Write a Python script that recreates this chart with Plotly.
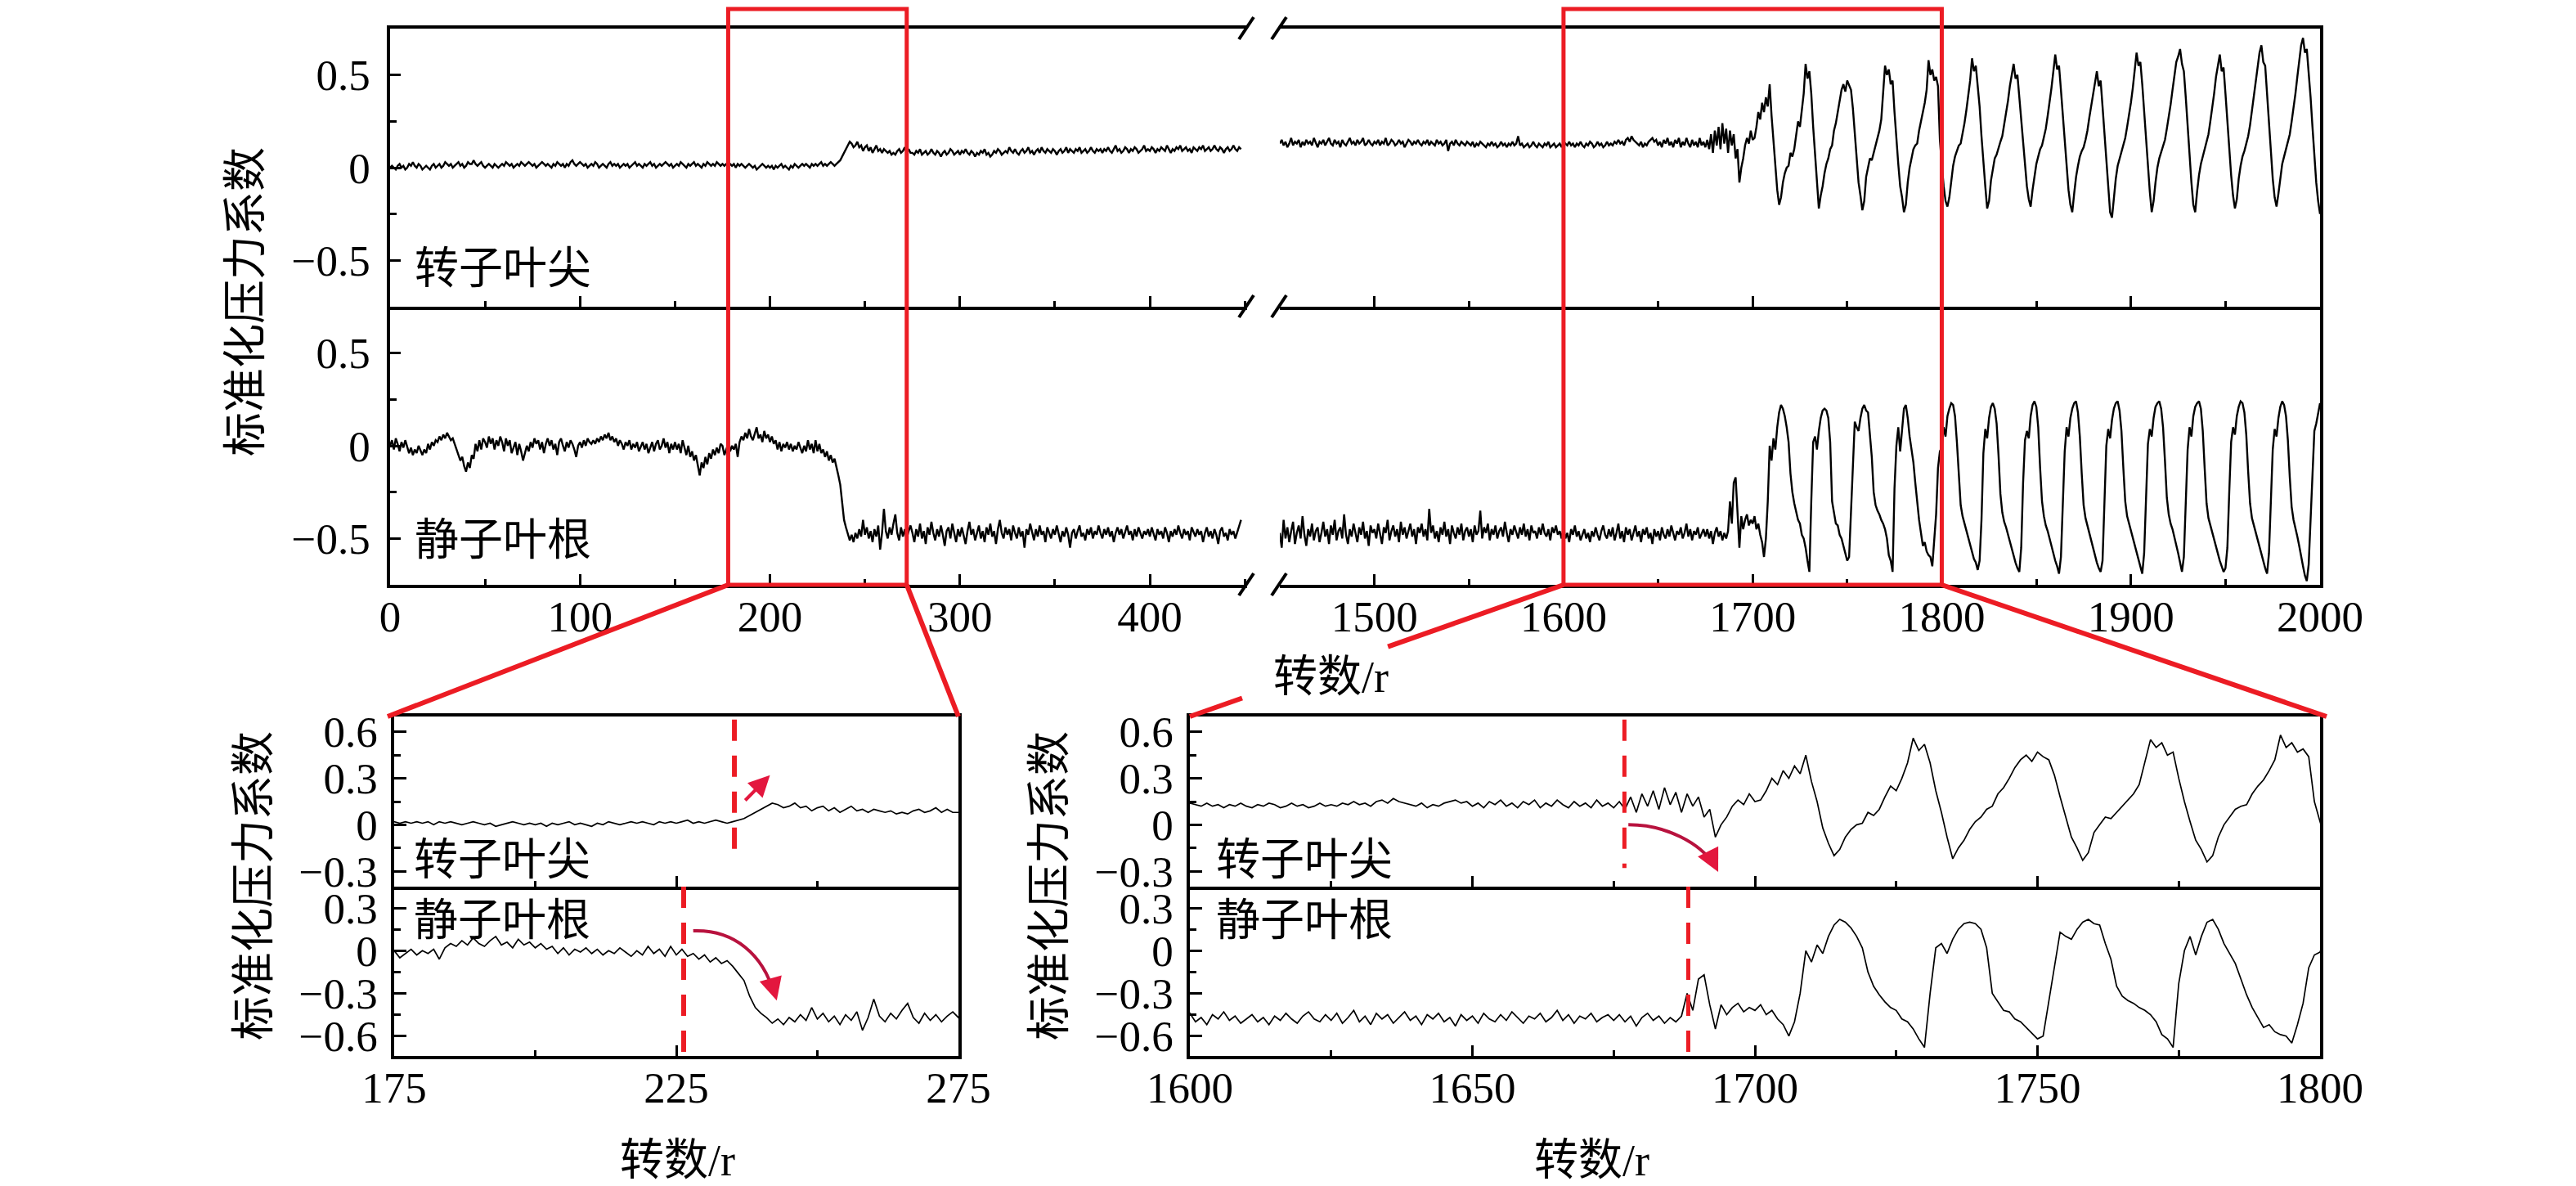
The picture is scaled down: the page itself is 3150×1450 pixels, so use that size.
import plotly.graph_objects as go

# ---------------- data ----------------
# revolutions: early segment starts at 0, late segment starts at 1450 (1 value per revolution)
rev_start_early = 0
rev_start_late = 1450

rotor_tip_early = [
    0.00, 0.01, 0.00, -0.01, 0.01, 0.02, 0.00, 0.01, -0.01, 0.00, 0.02, 0.01, 0.03, 0.01, 0.00, 0.02, 0.01, -0.01, 0.00, 0.01, 0.00, -0.01, 0.01, 0.02, 0.00,
    0.01, 0.02, 0.00, 0.01, 0.03, 0.02, 0.01, 0.02, 0.00, 0.01, 0.02, 0.03, 0.01, 0.02, 0.00, 0.01, 0.03, 0.02, 0.02, 0.04, 0.02, 0.01, 0.02, 0.03, 0.01,
    0.00, 0.01, 0.02, 0.01, 0.00, 0.02, 0.01, 0.00, 0.01, 0.02, 0.01, 0.03, 0.02, 0.01, 0.02, 0.00, 0.01, 0.02, 0.01, 0.03, 0.02, 0.01, 0.02, 0.03, 0.02,
    0.01, 0.02, 0.00, 0.01, 0.02, 0.03, 0.02, 0.01, 0.02, 0.01, 0.00, 0.02, 0.01, 0.03, 0.02, 0.01, 0.02, 0.00, 0.02, 0.01, 0.03, 0.04, 0.02, 0.01, 0.02,
    0.03, 0.02, 0.01, 0.02, 0.00, 0.01, 0.02, 0.01, 0.03, 0.02, 0.00, 0.01, 0.02, 0.01, 0.00, 0.02, 0.03, 0.01, 0.02, 0.01, 0.02, 0.00, 0.01, 0.02, 0.01,
    0.02, 0.00, 0.01, 0.02, 0.03, 0.01, 0.02, 0.01, 0.00, 0.02, 0.01, 0.02, 0.03, 0.01, 0.02, 0.00, 0.01, 0.02, 0.01, 0.02, 0.03, 0.02, 0.01, 0.02, 0.00,
    0.01, 0.02, 0.01, 0.03, 0.02, 0.01, 0.00, 0.02, 0.01, 0.02, 0.03, 0.01, 0.02, 0.01, 0.00, 0.02, 0.01, 0.03, 0.02, 0.01, 0.02, 0.01, 0.03, 0.02, 0.01,
    0.02, 0.01, 0.02, 0.01, 0.02, 0.01, 0.02, 0.00, 0.02, 0.01, 0.02, 0.01, 0.00, 0.01, 0.02, 0.01, 0.00, 0.01, -0.01, 0.00, 0.01, 0.02, 0.01, 0.00, 0.01,
    0.00, 0.01, -0.01, 0.01, 0.00, 0.01, 0.02, 0.00, 0.01, 0.00, -0.01, 0.01, 0.00, 0.02, 0.01, 0.00, 0.01, 0.02, 0.01, 0.02, 0.01, 0.00, 0.02, 0.01, 0.02,
    0.01, 0.02, 0.03, 0.01, 0.02, 0.01, 0.02, 0.03, 0.02, 0.01, 0.02, 0.03, 0.04, 0.06, 0.08, 0.10, 0.12, 0.14, 0.13, 0.11, 0.12, 0.14, 0.11, 0.12, 0.09,
    0.11, 0.12, 0.09, 0.11, 0.08, 0.10, 0.12, 0.09, 0.10, 0.08, 0.10, 0.09, 0.08, 0.09, 0.07, 0.08, 0.07, 0.09, 0.10, 0.08, 0.09, 0.11, 0.08, 0.10, 0.08,
    0.08, 0.07, 0.09, 0.08, 0.10, 0.07, 0.08, 0.09, 0.07, 0.08, 0.10, 0.08, 0.07, 0.09, 0.08, 0.06, 0.08, 0.09, 0.07, 0.08, 0.10, 0.09, 0.07, 0.08, 0.09,
    0.07, 0.09, 0.08, 0.10, 0.08, 0.07, 0.09, 0.08, 0.06, 0.08, 0.07, 0.09, 0.08, 0.10, 0.07, 0.08, 0.06, 0.07, 0.09, 0.08, 0.10, 0.09, 0.07, 0.08, 0.09,
    0.08, 0.11, 0.09, 0.08, 0.10, 0.08, 0.07, 0.09, 0.10, 0.08, 0.09, 0.11, 0.08, 0.09, 0.07, 0.09, 0.10, 0.08, 0.11, 0.09, 0.08, 0.10, 0.09, 0.08, 0.10,
    0.09, 0.07, 0.09, 0.10, 0.08, 0.09, 0.11, 0.08, 0.10, 0.09, 0.08, 0.10, 0.09, 0.11, 0.08, 0.09, 0.10, 0.08, 0.09, 0.11, 0.09, 0.08, 0.10, 0.09, 0.10,
    0.08, 0.10, 0.09, 0.11, 0.09, 0.08, 0.10, 0.12, 0.09, 0.10, 0.08, 0.09, 0.11, 0.10, 0.08, 0.10, 0.09, 0.11, 0.10, 0.08, 0.09, 0.10, 0.12, 0.09, 0.10,
    0.09, 0.11, 0.10, 0.08, 0.10, 0.09, 0.11, 0.10, 0.09, 0.12, 0.10, 0.08, 0.10, 0.09, 0.11, 0.10, 0.12, 0.09, 0.10, 0.11, 0.09, 0.10, 0.08, 0.11, 0.10,
    0.09, 0.11, 0.10, 0.12, 0.09, 0.10, 0.11, 0.09, 0.10, 0.12, 0.10, 0.09, 0.11, 0.10, 0.08, 0.10, 0.11, 0.09, 0.10, 0.12, 0.10, 0.09, 0.11, 0.10,
]

rotor_tip_late = [
    0.13, 0.15, 0.12, 0.14, 0.11, 0.13, 0.16, 0.12, 0.14, 0.13, 0.15, 0.11, 0.14, 0.12, 0.15, 0.13, 0.14, 0.12, 0.16, 0.13, 0.11, 0.14, 0.13, 0.15, 0.12,
    0.14, 0.16, 0.13, 0.12, 0.15, 0.13, 0.14, 0.11, 0.15, 0.13, 0.12, 0.14, 0.16, 0.13, 0.14, 0.12, 0.15, 0.13, 0.14, 0.16, 0.12, 0.13, 0.15, 0.13, 0.12,
    0.14, 0.13, 0.15, 0.12, 0.14, 0.13, 0.16, 0.12, 0.13, 0.15, 0.14, 0.12, 0.13, 0.15, 0.13, 0.14, 0.11, 0.13, 0.15, 0.14, 0.12, 0.14, 0.13, 0.15, 0.13,
    0.12, 0.14, 0.13, 0.15, 0.12, 0.14, 0.13, 0.12, 0.15, 0.13, 0.14, 0.12, 0.13, 0.15, 0.09, 0.13, 0.14, 0.12, 0.15, 0.13, 0.12, 0.14, 0.13, 0.12, 0.14,
    0.13, 0.12, 0.14, 0.11, 0.13, 0.12, 0.14, 0.13, 0.12, 0.11, 0.13, 0.12, 0.14, 0.12, 0.13, 0.11, 0.12, 0.14, 0.12, 0.13, 0.11, 0.13, 0.12, 0.14, 0.12,
    0.13, 0.17, 0.12, 0.13, 0.11, 0.12, 0.13, 0.11, 0.12, 0.14, 0.12, 0.11, 0.13, 0.12, 0.11, 0.13, 0.12, 0.14, 0.11, 0.12, 0.13, 0.11, 0.12, 0.13, 0.11,
    0.14, 0.13, 0.12, 0.14, 0.12, 0.13, 0.11, 0.13, 0.12, 0.14, 0.12, 0.11, 0.13, 0.12, 0.14, 0.13, 0.11, 0.12, 0.14, 0.12, 0.13, 0.11, 0.12, 0.14, 0.12,
    0.13, 0.12, 0.14, 0.13, 0.15, 0.13, 0.14, 0.12, 0.15, 0.16, 0.14, 0.17, 0.15, 0.14, 0.13, 0.12, 0.14, 0.11, 0.13, 0.12, 0.14, 0.15, 0.16, 0.14, 0.15,
    0.12, 0.14, 0.11, 0.15, 0.13, 0.16, 0.12, 0.14, 0.11, 0.15, 0.13, 0.16, 0.11, 0.14, 0.12, 0.16, 0.13, 0.11, 0.15, 0.12, 0.14, 0.11, 0.16, 0.12, 0.14,
    0.11, 0.15, 0.10, 0.18, 0.08, 0.20, 0.12, 0.22, 0.10, 0.24, 0.13, 0.21, 0.08, 0.20, 0.12, 0.18, 0.05, 0.10, -0.08, 0.00, 0.05, 0.12, 0.16, 0.13, 0.20,
    0.15, 0.16, 0.22, 0.30, 0.26, 0.35, 0.30, 0.38, 0.33, 0.45, 0.28, 0.15, -0.02, -0.12, -0.20, -0.16, -0.08, -0.03, 0.00, 0.01, 0.08, 0.06, 0.10, 0.18, 0.25,
    0.22, 0.30, 0.40, 0.56, 0.48, 0.52, 0.40, 0.22, 0.08, -0.08, -0.22, -0.15, -0.10, -0.03, 0.02, 0.05, 0.10, 0.12, 0.20, 0.24, 0.30, 0.37, 0.42, 0.45, 0.41,
    0.47, 0.44, 0.42, 0.32, 0.18, 0.05, -0.08, -0.15, -0.23, -0.18, -0.05, 0.00, 0.05, 0.04, 0.08, 0.12, 0.16, 0.20, 0.26, 0.40, 0.55, 0.50, 0.53, 0.45, 0.47,
    0.30, 0.15, 0.02, -0.10, -0.16, -0.24, -0.20, -0.08, 0.00, 0.05, 0.10, 0.12, 0.13, 0.20, 0.25, 0.29, 0.35, 0.42, 0.58, 0.50, 0.53, 0.47, 0.49, 0.44, 0.15,
    0.02, -0.10, -0.18, -0.21, -0.16, -0.06, 0.01, 0.06, 0.09, 0.12, 0.13, 0.18, 0.24, 0.31, 0.38, 0.47, 0.59, 0.52, 0.55, 0.45, 0.33, 0.17, 0.02, -0.10, -0.22,
    -0.18, -0.07, 0.00, 0.05, 0.07, 0.11, 0.14, 0.17, 0.23, 0.30, 0.36, 0.44, 0.50, 0.56, 0.48, 0.50, 0.38, 0.25, 0.12, -0.01, -0.10, -0.17, -0.21, -0.12, -0.04,
    0.02, 0.06, 0.10, 0.12, 0.16, 0.21, 0.28, 0.35, 0.43, 0.52, 0.61, 0.53, 0.55, 0.42, 0.28, 0.13, 0.00, -0.12, -0.20, -0.24, -0.14, -0.05, 0.01, 0.06, 0.09,
    0.11, 0.15, 0.20, 0.27, 0.33, 0.40, 0.46, 0.52, 0.44, 0.47, 0.33, 0.18, 0.03, -0.12, -0.24, -0.27, -0.15, -0.06, 0.01, 0.05, 0.09, 0.12, 0.16, 0.22, 0.28,
    0.35, 0.43, 0.52, 0.62, 0.55, 0.57, 0.45, 0.30, 0.14, -0.01, -0.13, -0.24, -0.18, -0.08, 0.00, 0.05, 0.08, 0.12, 0.15, 0.21, 0.27, 0.34, 0.42, 0.50, 0.57,
    0.60, 0.64, 0.56, 0.52, 0.38, 0.22, 0.06, -0.08, -0.20, -0.24, -0.13, -0.04, 0.02, 0.06, 0.10, 0.13, 0.18, 0.25, 0.32, 0.40, 0.49, 0.56, 0.61, 0.52, 0.54,
    0.40, 0.25, 0.10, -0.04, -0.15, -0.22, -0.17, -0.06, 0.01, 0.06, 0.09, 0.13, 0.17, 0.23, 0.31, 0.39, 0.47, 0.56, 0.62, 0.66, 0.57, 0.55, 0.40, 0.24, 0.08,
    -0.06, -0.16, -0.21, -0.14, -0.05, 0.02, 0.06, 0.10, 0.14, 0.18, 0.25, 0.32, 0.40, 0.49, 0.58, 0.66, 0.70, 0.62, 0.64, 0.52, 0.38, 0.22, 0.06, -0.08, -0.18,
    -0.25,
]

stator_root_early = [
    0.00, 0.03, -0.02, 0.04, 0.01, -0.03, 0.02, -0.01, 0.03, 0.00, -0.04, -0.01, -0.05, -0.02, -0.04, 0.00, -0.03, -0.05, -0.02, -0.04, 0.01, -0.02, 0.02, 0.00, 0.03,
    0.02, 0.05, 0.03, 0.06, 0.04, 0.07, 0.05, 0.03, 0.04, 0.01, -0.02, -0.05, -0.08, -0.06, -0.11, -0.14, -0.09, -0.12, -0.05, -0.07, 0.01, -0.03, 0.03, -0.02, 0.04,
    0.02, -0.01, 0.05, 0.01, 0.04, -0.02, 0.03, 0.00, 0.05, 0.02, -0.03, 0.04, 0.00, 0.03, -0.04, -0.01, 0.02, -0.05, 0.01, -0.03, -0.08, -0.04, 0.00, -0.03, 0.02,
    -0.01, 0.04, 0.01, 0.03, -0.02, 0.02, -0.04, 0.01, 0.04, 0.00, 0.03, -0.02, 0.01, -0.05, 0.02, 0.04, 0.00, -0.03, 0.02, -0.01, 0.03, 0.01, -0.02, -0.06, 0.00,
    0.02, -0.01, 0.03, 0.00, 0.04, 0.02, 0.01, 0.03, 0.01, 0.04, 0.02, 0.05, 0.03, 0.06, 0.04, 0.07, 0.03, 0.05, 0.02, 0.04, 0.00, 0.03, 0.01, -0.02, 0.02,
    0.00, 0.03, -0.02, 0.01, -0.01, 0.02, -0.03, 0.00, 0.02, -0.02, 0.01, -0.04, -0.01, 0.02, -0.03, 0.01, 0.03, -0.02, 0.00, 0.04, -0.01, 0.02, -0.04, 0.01, -0.02,
    0.02, -0.02, 0.01, -0.04, 0.03, -0.01, -0.05, 0.00, -0.06, -0.03, -0.08, -0.05, -0.10, -0.16, -0.09, -0.12, -0.06, -0.10, -0.04, -0.07, -0.02, -0.05, -0.01, -0.04, 0.01,
    0.00, -0.05, -0.02, 0.01, -0.03, 0.00, -0.02, 0.01, -0.06, 0.02, 0.05, 0.03, 0.07, 0.04, 0.09, 0.05, 0.03, 0.07, 0.10, 0.04, 0.06, 0.02, 0.08, 0.04, 0.06,
    0.02, 0.05, 0.01, 0.03, -0.02, 0.02, -0.03, 0.01, -0.01, 0.02, -0.02, 0.01, -0.03, 0.00, -0.02, 0.02, -0.01, -0.04, 0.00, -0.03, 0.03, -0.02, 0.01, -0.04, 0.03,
    -0.03, 0.01, -0.04, -0.02, -0.06, -0.03, -0.08, -0.05, -0.09, -0.07, -0.11, -0.16, -0.21, -0.32, -0.40, -0.44, -0.47, -0.51, -0.48, -0.52, -0.47, -0.50, -0.45, -0.49, -0.40,
    -0.48, -0.44, -0.50, -0.46, -0.52, -0.45, -0.49, -0.43, -0.56, -0.47, -0.34, -0.46, -0.50, -0.44, -0.48, -0.42, -0.37, -0.47, -0.51, -0.44, -0.49, -0.45, -0.50, -0.46, -0.43,
    -0.47, -0.52, -0.45, -0.49, -0.42, -0.50, -0.46, -0.53, -0.44, -0.48, -0.41, -0.47, -0.51, -0.45, -0.49, -0.43, -0.48, -0.54, -0.46, -0.44, -0.50, -0.42, -0.47, -0.52, -0.45,
    -0.49, -0.44, -0.48, -0.53, -0.46, -0.41, -0.48, -0.45, -0.51, -0.47, -0.43, -0.50, -0.46, -0.52, -0.44, -0.48, -0.42, -0.49, -0.46, -0.53, -0.45, -0.40, -0.47, -0.50, -0.44,
    -0.48, -0.45, -0.51, -0.43, -0.47, -0.50, -0.44, -0.49, -0.46, -0.55, -0.45, -0.48, -0.42, -0.47, -0.51, -0.45, -0.49, -0.43, -0.48, -0.46, -0.52, -0.44, -0.47, -0.50, -0.45,
    -0.48, -0.43, -0.47, -0.52, -0.46, -0.49, -0.44, -0.48, -0.55, -0.47, -0.45, -0.50, -0.46, -0.43, -0.49, -0.47, -0.51, -0.45, -0.48, -0.44, -0.50, -0.46, -0.48, -0.43, -0.47,
    -0.50, -0.45, -0.48, -0.44, -0.49, -0.46, -0.52, -0.47, -0.44, -0.48, -0.45, -0.50, -0.47, -0.43, -0.48, -0.46, -0.51, -0.45, -0.49, -0.44, -0.47, -0.50, -0.46, -0.48, -0.45,
    -0.49, -0.44, -0.47, -0.51, -0.45, -0.48, -0.46, -0.50, -0.44, -0.47, -0.52, -0.46, -0.49, -0.45, -0.48, -0.43, -0.47, -0.50, -0.45, -0.48, -0.46, -0.51, -0.44, -0.47, -0.49,
    -0.45, -0.48, -0.46, -0.52, -0.47, -0.44, -0.49, -0.46, -0.50, -0.45, -0.48, -0.53, -0.46, -0.44, -0.49, -0.47, -0.51, -0.45, -0.48, -0.46, -0.50, -0.47, -0.44, -0.40,
]

stator_root_late = [
    -0.47, -0.55, -0.40, -0.50, -0.44, -0.52, -0.46, -0.41, -0.53, -0.47, -0.43, -0.50, -0.38, -0.48, -0.54, -0.45, -0.49, -0.42, -0.51, -0.46, -0.44, -0.52, -0.47, -0.41, -0.49,
    -0.45, -0.53, -0.43, -0.48, -0.40, -0.51, -0.46, -0.44, -0.50, -0.37, -0.48, -0.53, -0.45, -0.49, -0.42, -0.47, -0.52, -0.44, -0.48, -0.41, -0.50, -0.46, -0.54, -0.43, -0.47,
    -0.45, -0.50, -0.42, -0.48, -0.53, -0.44, -0.47, -0.40, -0.51, -0.46, -0.43, -0.49, -0.45, -0.52, -0.41, -0.48, -0.44, -0.50, -0.46, -0.42, -0.49, -0.45, -0.53, -0.44, -0.47,
    -0.42, -0.49, -0.45, -0.51, -0.34, -0.47, -0.43, -0.50, -0.46, -0.52, -0.44, -0.48, -0.41, -0.49, -0.45, -0.53, -0.43, -0.47, -0.50, -0.44, -0.48, -0.42, -0.51, -0.46, -0.44,
    -0.49, -0.45, -0.52, -0.43, -0.48, -0.46, -0.35, -0.50, -0.44, -0.47, -0.42, -0.51, -0.45, -0.48, -0.43, -0.50, -0.46, -0.44, -0.49, -0.41, -0.47, -0.52, -0.45, -0.48, -0.43,
    -0.47, -0.50, -0.44, -0.48, -0.42, -0.49, -0.45, -0.51, -0.43, -0.47, -0.46, -0.50, -0.44, -0.48, -0.42, -0.47, -0.49, -0.45, -0.51, -0.44, -0.47, -0.43, -0.48, -0.46, -0.50,
    -0.44, -0.50, -0.47, -0.52, -0.45, -0.48, -0.43, -0.49, -0.46, -0.51, -0.48, -0.45, -0.50, -0.47, -0.52, -0.46, -0.49, -0.44, -0.48, -0.51, -0.46, -0.43, -0.48, -0.50, -0.45,
    -0.49, -0.44, -0.51, -0.47, -0.42, -0.50, -0.46, -0.52, -0.44, -0.48, -0.45, -0.51, -0.47, -0.43, -0.49, -0.46, -0.52, -0.45, -0.48, -0.44, -0.50, -0.47, -0.53, -0.45, -0.49,
    -0.46, -0.51, -0.44, -0.48, -0.50, -0.45, -0.49, -0.43, -0.47, -0.51, -0.46, -0.48, -0.44, -0.50, -0.47, -0.42, -0.49, -0.45, -0.51, -0.46, -0.48, -0.44, -0.50, -0.47, -0.45,
    -0.49, -0.45, -0.50, -0.46, -0.53, -0.47, -0.44, -0.49, -0.46, -0.51, -0.47, -0.50, -0.46, -0.30, -0.42, -0.20, -0.17, -0.38, -0.55, -0.38, -0.45, -0.40, -0.37, -0.43, -0.40,
    -0.42, -0.38, -0.45, -0.42, -0.48, -0.52, -0.60, -0.50, -0.30, 0.00, -0.08, 0.04, -0.02, 0.10, 0.18, 0.22, 0.20, 0.16, 0.10, 0.02, -0.15, -0.25, -0.31, -0.36, -0.40,
    -0.42, -0.48, -0.50, -0.55, -0.62, -0.68, -0.30, 0.02, 0.05, -0.02, 0.08, 0.15, 0.19, 0.20, 0.19, 0.15, 0.02, -0.30, -0.36, -0.42, -0.43, -0.48, -0.50, -0.54, -0.58,
    -0.62, -0.60, -0.35, -0.10, 0.13, 0.10, 0.08, 0.15, 0.20, 0.22, 0.19, 0.18, 0.05, -0.06, -0.25, -0.32, -0.35, -0.37, -0.40, -0.42, -0.45, -0.50, -0.59, -0.62, -0.68,
    -0.23, 0.00, 0.10, -0.03, 0.10, 0.20, 0.22, 0.15, 0.05, -0.02, -0.09, -0.20, -0.31, -0.40, -0.47, -0.54, -0.52, -0.57, -0.59, -0.60, -0.65, -0.52, -0.37, -0.12, -0.03,
    -0.01, 0.10, 0.05, 0.16, 0.20, 0.23, 0.22, 0.16, 0.02, -0.18, -0.32, -0.38, -0.42, -0.45, -0.49, -0.53, -0.57, -0.61, -0.63, -0.67, -0.62, -0.40, -0.04, 0.09, 0.04,
    0.15, 0.21, 0.23, 0.20, 0.12, -0.05, -0.26, -0.36, -0.41, -0.44, -0.48, -0.52, -0.55, -0.60, -0.63, -0.66, -0.68, -0.55, -0.20, 0.03, 0.08, 0.04, 0.16, 0.22, 0.24,
    0.21, 0.10, -0.12, -0.30, -0.38, -0.43, -0.46, -0.50, -0.55, -0.58, -0.62, -0.65, -0.69, -0.60, -0.35, -0.03, 0.10, 0.05, 0.15, 0.20, 0.23, 0.24, 0.18, 0.05, -0.15,
    -0.32, -0.39, -0.43, -0.47, -0.51, -0.56, -0.60, -0.63, -0.66, -0.68, -0.62, -0.30, 0.00, 0.09, 0.04, 0.14, 0.20, 0.23, 0.24, 0.19, 0.08, -0.12, -0.30, -0.38, -0.42,
    -0.46, -0.50, -0.54, -0.58, -0.62, -0.65, -0.69, -0.58, -0.28, 0.01, 0.09, 0.05, 0.15, 0.21, 0.23, 0.24, 0.20, 0.10, -0.08, -0.28, -0.37, -0.42, -0.45, -0.49, -0.54,
    -0.58, -0.63, -0.68, -0.60, -0.32, -0.02, 0.10, 0.05, 0.16, 0.21, 0.23, 0.24, 0.20, 0.08, -0.12, -0.31, -0.39, -0.43, -0.47, -0.51, -0.55, -0.59, -0.62, -0.65, -0.68,
    -0.66, -0.55, -0.25, 0.02, 0.10, 0.06, 0.16, 0.21, 0.24, 0.23, 0.18, 0.06, -0.14, -0.31, -0.39, -0.43, -0.47, -0.51, -0.55, -0.59, -0.63, -0.66, -0.69, -0.58, -0.30,
    -0.02, 0.09, 0.05, 0.15, 0.21, 0.24, 0.22, 0.16, 0.03, -0.17, -0.33, -0.40, -0.44, -0.49, -0.54, -0.60, -0.65, -0.70, -0.73, -0.64, -0.40, -0.10, 0.08, 0.12, 0.18,
    0.23,
]

panel_labels = ["转子叶尖", "静子叶根"]
y_title = "标准化压力系数"
x_title = "转数/r"

highlight_early = [178, 272]     # red box on the early segment
highlight_late = [1600, 1800]    # red box on the late segment
zoom_left_range = [175, 275]
zoom_right_range = [1600, 1800]

# onset markers (dashed lines)
onset_left_tip = 235.3
onset_left_root = 226.3
onset_right_tip = 1676.9
onset_right_root = 1688.2

rev_early_tip = list(range(rev_start_early, rev_start_early + len(rotor_tip_early)))
rev_late_tip = list(range(rev_start_late, rev_start_late + len(rotor_tip_late)))
rev_early_root = list(range(rev_start_early, rev_start_early + len(stator_root_early)))
rev_late_root = list(range(rev_start_late, rev_start_late + len(stator_root_late)))

# ---------------- layout geometry (pixels of 3150x1450 canvas) ----------------
W, H = 3150, 1450


def px(v):
    return v / W


def py(v):
    return 1 - v / H


XL = [px(469), px(1517)]
XR = [px(1557), px(2829)]
YT = [py(367), py(27)]
YB = [py(707), py(367)]
ZXL = [px(474), px(1164)]
ZXR = [px(1447), px(2829)]
ZYT = [py(1076), py(868)]
ZYB = [py(1283), py(1076)]

XL_RANGE = [0, 451.2]
XR_RANGE = [1450, 2000]
MAIN_Y = [-0.75, 0.75]
ZOOM_Y_TOP = [-0.4, 0.7]
ZOOM_Y_BOT = [-0.74, 0.45]

FONT = "Liberation Serif, Noto Sans CJK SC, serif"
CJK = "Noto Sans CJK SC, Liberation Serif"
RED = "#ec1c24"
CRIMSON = "#b8123e"
HEAD = "#e3173e"

fig = go.Figure()

main_w = 2.4
zoom_w = 1.7
series = [
    (rev_early_tip, rotor_tip_early, "x", "y", main_w),
    (rev_late_tip, rotor_tip_late, "x2", "y2", main_w),
    (rev_early_root, stator_root_early, "x3", "y3", main_w),
    (rev_late_root, stator_root_late, "x4", "y4", main_w),
    (rev_early_tip, rotor_tip_early, "x5", "y5", zoom_w),
    (rev_early_root, stator_root_early, "x6", "y6", zoom_w),
    (rev_late_tip, rotor_tip_late, "x7", "y7", zoom_w),
    (rev_late_root, stator_root_late, "x8", "y8", zoom_w),
]
for xs, ys, xa, ya, w in series:
    fig.add_trace(go.Scatter(x=xs, y=ys, mode="lines", line=dict(color="black", width=w),
                             xaxis=xa, yaxis=ya, showlegend=False, hoverinfo="skip"))

tickfont = dict(family=FONT, size=53, color="black")
base = dict(showline=True, linecolor="black", linewidth=3.5, ticks="inside", tickcolor="black",
            tickwidth=3, ticklen=13, showgrid=False, zeroline=False, tickfont=tickfont, automargin=False)


def xaxis(domain, rng, anchor, labels, dtick, tick0, mdtick, standoff, mirror):
    d = dict(base)
    d.update(domain=domain, range=rng, anchor=anchor, showticklabels=labels, dtick=dtick, tick0=tick0,
             mirror=mirror, ticklabelstandoff=standoff,
             minor=dict(ticks="inside", ticklen=7, tickwidth=3, tickcolor="black", dtick=mdtick, tick0=tick0,
                        showgrid=False))
    return d


def yaxis(domain, rng, anchor, dtick, mdtick, mirror, standoff, tlen):
    d = dict(base)
    d.update(domain=domain, range=rng, anchor=anchor, dtick=dtick, tick0=0, mirror=mirror,
             ticklabelstandoff=standoff, ticklen=tlen,
             minor=dict(ticks="inside", ticklen=8, tickwidth=3, tickcolor="black", dtick=mdtick, tick0=0,
                        showgrid=False))
    return d


def yaxis_right(domain, rng, anchor):
    return dict(domain=domain, range=rng, anchor=anchor, side="right", showline=True, linecolor="black",
                linewidth=3.5, ticks="", showticklabels=False, showgrid=False, zeroline=False, automargin=False)


fig.update_layout(
    width=W, height=H, margin=dict(l=0, r=0, t=0, b=0, autoexpand=False),
    paper_bgcolor="white", plot_bgcolor="rgba(0,0,0,0)", showlegend=False,
    xaxis=xaxis(XL, XL_RANGE, "y", False, 100, 0, 50, 0, True),
    xaxis2=xaxis(XR, XR_RANGE, "y2", False, 100, 0, 50, 0, True),
    xaxis3=xaxis(XL, XL_RANGE, "y3", True, 100, 0, 50, -10, False),
    xaxis4=xaxis(XR, XR_RANGE, "y4", True, 100, 0, 50, -10, False),
    xaxis5=xaxis(ZXL, zoom_left_range, "y5", False, 50, 175, 25, 0, True),
    xaxis6=xaxis(ZXL, zoom_left_range, "y6", True, 50, 175, 25, -10, False),
    xaxis7=xaxis(ZXR, zoom_right_range, "y7", False, 50, 1600, 25, 0, True),
    xaxis8=xaxis(ZXR, zoom_right_range, "y8", True, 50, 1600, 25, -10, False),
    yaxis=yaxis(YT, MAIN_Y, "x", 0.5, 0.25, False, 10, 13),
    yaxis2=yaxis_right(YT, MAIN_Y, "x2"),
    yaxis3=yaxis(YB, MAIN_Y, "x3", 0.5, 0.25, False, 10, 13),
    yaxis4=yaxis_right(YB, MAIN_Y, "x4"),
    yaxis5=yaxis(ZYT, ZOOM_Y_TOP, "x5", 0.3, 0.15, True, 6, 15),
    yaxis6=yaxis(ZYB, ZOOM_Y_BOT, "x6", 0.3, 0.15, True, 6, 15),
    yaxis7=yaxis(ZYT, ZOOM_Y_TOP, "x7", 0.3, 0.15, True, 6, 15),
    yaxis8=yaxis(ZYB, ZOOM_Y_BOT, "x8", 0.3, 0.15, True, 6, 15),
)


def to_paper(dom, rng, v):
    return dom[0] + (v - rng[0]) / (rng[1] - rng[0]) * (dom[1] - dom[0])


shapes = []
# axis-break slashes
for yy in (27, 367, 707):
    for xc in (1516, 1556):
        shapes.append(dict(type="line", xref="paper", yref="paper", x0=px(xc - 9), y0=py(yy + 13),
                           x1=px(xc + 9), y1=py(yy - 14), line=dict(color="black", width=4)))
# red highlight boxes
shapes.append(dict(type="rect", xref="x", yref="paper", x0=highlight_early[0], x1=highlight_early[1],
                   y0=py(707), y1=py(3), line=dict(color=RED, width=5), fillcolor="rgba(0,0,0,0)"))
shapes.append(dict(type="rect", xref="x2", yref="paper", x0=highlight_late[0], x1=highlight_late[1],
                   y0=py(707), y1=py(3), line=dict(color=RED, width=5), fillcolor="rgba(0,0,0,0)"))


def seg(xa, ya, xb, yb, t0=0.0, t1=1.0):
    return dict(type="line", xref="paper", yref="paper",
                x0=xa + (xb - xa) * t0, y0=ya + (yb - ya) * t0,
                x1=xa + (xb - xa) * t1, y1=ya + (yb - ya) * t1,
                line=dict(color=RED, width=6))


shapes.append(seg(to_paper(XL, XL_RANGE, highlight_early[0]), py(707), px(466), py(868)))
shapes.append(seg(to_paper(XL, XL_RANGE, highlight_early[1]), py(707), px(1164), py(868)))
xa = to_paper(XR, XR_RANGE, highlight_late[0])
shapes.append(seg(xa, py(707), px(1447), py(868), 0.0, 0.47))
shapes.append(seg(xa, py(707), px(1447), py(868), 0.86, 1.0))
shapes.append(seg(to_paper(XR, XR_RANGE, highlight_late[1]), py(707), px(2837), py(868)))

# dashed onset lines
dash = "26px,18px"
shapes.append(dict(type="line", xref="x5", yref="y5", x0=onset_left_tip, x1=onset_left_tip, y0=0.68, y1=-0.24,
                   line=dict(color=RED, width=6, dash=dash)))
shapes.append(dict(type="line", xref="x6", yref="y6", x0=onset_left_root, x1=onset_left_root,
                   y0=ZOOM_Y_BOT[1], y1=ZOOM_Y_BOT[0], line=dict(color=RED, width=6, dash=dash)))
shapes.append(dict(type="line", xref="x7", yref="y7", x0=onset_right_tip, x1=onset_right_tip, y0=0.68, y1=-0.28,
                   line=dict(color=RED, width=5, dash=dash)))
shapes.append(dict(type="line", xref="x8", yref="y8", x0=onset_right_root, x1=onset_right_root,
                   y0=ZOOM_Y_BOT[1], y1=ZOOM_Y_BOT[0], line=dict(color=RED, width=5, dash=dash)))

# curved arrows (bodies)
shapes.append(dict(type="path", xref="x6", yref="y6", path="M 228.0,0.139 C 235.3,0.15 240.4,-0.03 242.3,-0.30",
                   line=dict(color=CRIMSON, width=4)))
shapes.append(dict(type="path", xref="x7", yref="y7", path="M 1677.6,0.0 C 1684.4,0.0 1690.3,-0.12 1692.8,-0.26",
                   line=dict(color=CRIMSON, width=4)))
fig.update_layout(shapes=shapes)

ann = []
# y titles
for xx, yy in ((288, 361), (297, 1075), (1270, 1075)):
    ann.append(dict(text=y_title, x=px(xx), y=py(yy), xref="paper", yref="paper", showarrow=False,
                    textangle=-90, xanchor="center", yanchor="middle", font=dict(family=CJK, size=54, color="black")))
# x titles
ann.append(dict(text=x_title, x=px(1620), y=py(820), xref="paper", yref="paper", showarrow=False,
                xanchor="center", yanchor="middle", font=dict(family=FONT, size=54, color="black")))
for xx in (820, 1938):
    ann.append(dict(text=x_title, x=px(xx), y=py(1411), xref="paper", yref="paper", showarrow=False,
                    xanchor="center", yanchor="middle", font=dict(family=FONT, size=54, color="black")))
# panel labels
for xx, yy, t in ((497, 315, panel_labels[0]), (497, 648, panel_labels[1]),
                  (496, 1038, panel_labels[0]), (496, 1112, panel_labels[1]),
                  (1477, 1038, panel_labels[0]), (1477, 1112, panel_labels[1])):
    ann.append(dict(text=t, x=px(xx), y=py(yy), xref="paper", yref="paper", showarrow=False,
                    xanchor="left", yanchor="middle", font=dict(family=CJK, size=54, color="black")))
# arrows
ann.append(dict(text="", x=241.6, y=0.32, ax=237.0, ay=0.15, xref="x5", yref="y5", axref="x5", ayref="y5",
                showarrow=True, arrowhead=2, arrowsize=1.3, arrowwidth=4, arrowcolor=HEAD))
ann.append(dict(text="", x=242.8, y=-0.35, ax=-5, ay=-18, xref="x6", yref="y6",
                showarrow=True, arrowhead=2, arrowsize=1.4, arrowwidth=4, arrowcolor=HEAD))
ann.append(dict(text="", x=1693.5, y=-0.305, ax=-8, ay=-16, xref="x7", yref="y7",
                showarrow=True, arrowhead=2, arrowsize=1.4, arrowwidth=4, arrowcolor=HEAD))
fig.update_layout(annotations=ann)

fig.write_html("out.html")
